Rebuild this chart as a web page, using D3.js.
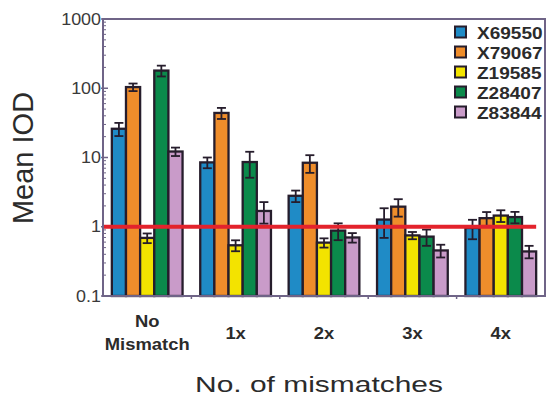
<!DOCTYPE html>
<html>
<head>
<meta charset="utf-8">
<script src="https://cdn.jsdelivr.net/npm/d3@7"></script>
<style>
  html, body { margin: 0; padding: 0; background: #fff; }
  svg { display: block; }
  text { font-family: "Liberation Sans", Arial, sans-serif; }
</style>
</head>
<body>
<svg id="chart" width="547" height="401"></svg>
<script>
// Mismatch groups along the x axis
const groups = ["No Mismatch", "1x", "2x", "3x", "4x"];
const groupLines = [["No", "Mismatch"], ["1x"], ["2x"], ["3x"], ["4x"]];

// Probe series
const series = ["X69550", "X79067", "Z19585", "Z28407", "Z83844"];
const colors = ["#1f8bc6", "#ef8d2b", "#f3e300", "#0b8a4b", "#c99bc9"];

// Mean IOD per series, one value per mismatch group
const X69550 = [26, 8.5, 2.8, 1.27, 0.96];
const X79067 = [104, 44, 8.4, 1.95, 1.33];
const Z19585 = [0.69, 0.54, 0.59, 0.75, 1.45];
const Z28407 = [180, 8.6, 0.88, 0.72, 1.38];
const Z83844 = [12.2, 1.69, 0.70, 0.455, 0.44];

// Error (± SD) per series
const X69550_err = [5.6, 1.5, 0.53, 0.58, 0.30];
const X79067_err = [13, 8, 2.4, 0.55, 0.30];
const Z19585_err = [0.11, 0.097, 0.09, 0.09, 0.28];
const Z28407_err = [32, 3.5, 0.24, 0.19, 0.26];
const Z83844_err = [1.7, 0.58, 0.11, 0.095, 0.09];

const yTicks = [0.1, 1, 10, 100, 1000];
const yTickLabels = ["0.1", "1", "10", "100", "1000"];
const thresholdValue = 1;

const values = [X69550, X79067, Z19585, Z28407, Z83844];
const errors = [X69550_err, X79067_err, Z19585_err, Z28407_err, Z83844_err];

const svg = d3.select("#chart");
const plot = { left: 103, right: 545, top: 19, bottom: 296 };

const x0 = d3.scaleBand().domain(groups)
  .range([plot.left, plot.right]).paddingInner(0.2).paddingOuter(0.1);
const x1 = d3.scaleBand().domain(series).range([0, x0.bandwidth()]).padding(0);
const y = d3.scaleLog().domain([0.1, 1000]).range([plot.bottom, plot.top]);

const frameColor = "#6f6487";
const ink = "#261d2c";

// horizontally widened text
function placeText(sel, x, yy, sx) {
  return sel.attr("transform", `translate(${x},${yy}) scale(${sx},1)`);
}

// y axis minor + major ticks (inside the frame)
const minor = [];
for (let e = -1; e < 3; e++) for (let k = 2; k <= 9; k++) minor.push(k * Math.pow(10, e));
svg.append("g").selectAll("line").data(minor).join("line")
  .attr("x1", plot.left).attr("x2", plot.left + 3)
  .attr("y1", d => y(d)).attr("y2", d => y(d))
  .attr("stroke", frameColor).attr("stroke-width", 1);
svg.append("g").selectAll("line").data(yTicks).join("line")
  .attr("x1", plot.left - 2).attr("x2", plot.left + 5)
  .attr("y1", d => y(d)).attr("y2", d => y(d))
  .attr("stroke", frameColor).attr("stroke-width", 1.5);

// y tick labels
yTicks.forEach((t, i) => {
  placeText(svg.append("text"), 101, y(t) + 5.5, 1.12)
    .attr("text-anchor", "end").attr("font-size", 16).attr("fill", "#3a3a3a")
    .text(yTickLabels[i]);
});

// x ticks at group boundaries
const bounds = groups.slice(1).map(g => x0(g) - x0.step() * x0.paddingInner() / 2);
svg.append("g").selectAll("line").data(bounds).join("line")
  .attr("x1", d => d).attr("x2", d => d)
  .attr("y1", plot.bottom).attr("y2", plot.bottom + 3)
  .attr("stroke", frameColor).attr("stroke-width", 1.5);

// bars
const rows = [];
groups.forEach((g, gi) => series.forEach((s, si) => rows.push({
  g, s, si, v: values[si][gi], e: errors[si][gi]
})));

const gBars = svg.append("g");
gBars.selectAll("rect").data(rows).join("rect")
  .attr("x", d => x0(d.g) + x1(d.s))
  .attr("width", x1.bandwidth())
  .attr("y", d => y(d.v))
  .attr("height", d => y(0.1) - y(d.v))
  .attr("fill", d => colors[d.si])
  .attr("stroke", ink).attr("stroke-width", 2.3);

// error bars
const capW = 9;
const gErr = svg.append("g").attr("stroke", ink).attr("stroke-width", 1.8);
rows.forEach(d => {
  const cx = x0(d.g) + x1(d.s) + x1.bandwidth() / 2;
  const yt = y(d.v + d.e), yb = y(Math.max(d.v - d.e, 0.101));
  gErr.append("line").attr("x1", cx).attr("x2", cx).attr("y1", yt).attr("y2", yb);
  gErr.append("line").attr("x1", cx - capW / 2).attr("x2", cx + capW / 2).attr("y1", yt).attr("y2", yt);
  gErr.append("line").attr("x1", cx - capW / 2).attr("x2", cx + capW / 2).attr("y1", yb).attr("y2", yb);
});

// threshold line at IOD = 1
svg.append("line")
  .attr("x1", plot.left).attr("x2", x0(groups[groups.length - 1]) + x0.bandwidth())
  .attr("y1", y(thresholdValue)).attr("y2", y(thresholdValue))
  .attr("stroke", "#e3232c").attr("stroke-width", 4);

// frame
svg.append("rect")
  .attr("x", plot.left).attr("y", plot.top)
  .attr("width", plot.right - plot.left).attr("height", plot.bottom - plot.top)
  .attr("fill", "none").attr("stroke", frameColor).attr("stroke-width", 2);

// group labels
groups.forEach((g, gi) => {
  const cx = x0(g) + x0.bandwidth() / 2;
  const lines = groupLines[gi];
  lines.forEach((ln, li) => {
    const by = lines.length === 1 ? 339 : 327 + li * 23;
    placeText(svg.append("text"), cx, by, 1.15)
      .attr("text-anchor", "middle").attr("font-size", 16).attr("font-weight", "bold")
      .attr("fill", "#2b2b2b").text(ln);
  });
});

// axis titles
svg.append("text")
  .attr("x", 319).attr("y", 392)
  .attr("text-anchor", "middle").attr("font-size", 21.5).attr("fill", "#2b2b2b")
  .attr("textLength", 248).attr("lengthAdjust", "spacingAndGlyphs")
  .text("No. of mismatches");

svg.append("text")
  .attr("transform", "translate(33,158) rotate(-90)")
  .attr("text-anchor", "middle").attr("font-size", 29).attr("fill", "#2b2b2b")
  .text("Mean IOD");

// legend
const leg = svg.append("g");
series.forEach((s, i) => {
  const cy = 32 + i * 20;
  leg.append("rect").attr("x", 455).attr("y", cy - 5.5).attr("width", 11).attr("height", 11)
    .attr("fill", colors[i]).attr("stroke", ink).attr("stroke-width", 2);
  placeText(leg.append("text"), 477, cy + 6.5, 1.12)
    .attr("font-size", 17).attr("font-weight", "bold").attr("fill", "#2b2b2b").text(s);
});
</script>
</body>
</html>
